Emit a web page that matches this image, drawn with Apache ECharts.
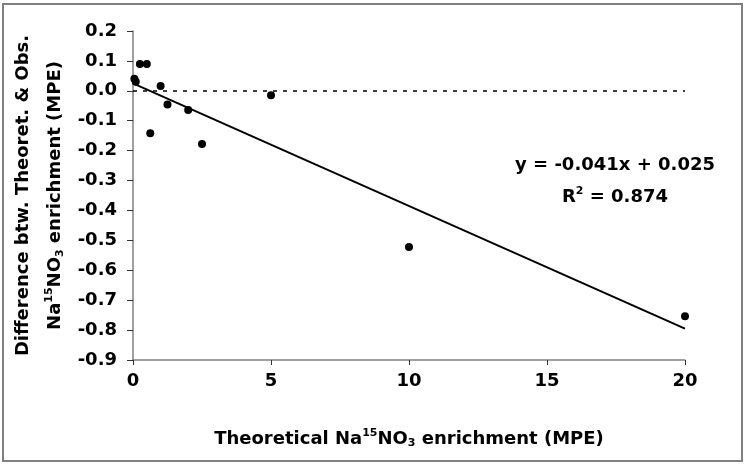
<!DOCTYPE html>
<html>
<head>
<meta charset="utf-8">
<script src="https://cdn.jsdelivr.net/npm/echarts@6/dist/echarts.min.js"></script>
<style>
html,body{margin:0;padding:0;background:#fff;}
#chart{width:749px;height:464px;}
</style>
</head>
<body>
<div id="chart"></div>
<script>
// Observed data: theoretical enrichment (MPE) vs difference (MPE)
const theoretical = [0.05, 0.1, 0.25, 0.5, 0.625, 1.0, 1.25, 2.0, 2.5, 5.0, 10.0, 20.0];
const difference  = [0.040, 0.030, 0.090, 0.090, -0.142, 0.016, -0.046, -0.064, -0.178, -0.015, -0.522, -0.754];
// Trendline endpoints as drawn (y = -0.041x + 0.025)
const trendX = [0, 20];
const trendY = [0.025, -0.795];
const xTicks = { min: 0, max: 20, interval: 5 };
const yTicks = { min: -0.9, max: 0.2, interval: 0.1 };
const equationText = 'y = -0.041x + 0.025';
const r2Value = '0.874';

const FONT = '"DejaVu Sans", "Liberation Sans", sans-serif';
const chart = echarts.init(document.getElementById('chart'), null, {renderer: 'canvas'});

const scatterData = theoretical.map((x, i) => [x, difference[i]]);
const trendData = trendX.map((x, i) => [x, trendY[i]]);

function richStyles(lh) {
  return {
    b: { fontFamily: FONT, fontWeight: 'bold', fontSize: 18, color: '#000', lineHeight: lh, verticalAlign: 'middle' },
    sup: { fontFamily: FONT, fontWeight: 'bold', fontSize: 11, color: '#000', lineHeight: 12, verticalAlign: 'middle', padding: [0, 0, 12, 0] },
    sub: { fontFamily: FONT, fontWeight: 'bold', fontSize: 11, color: '#000', lineHeight: 12, verticalAlign: 'middle', padding: [9, 0, 0, 0] }
  };
}

const option = {
  backgroundColor: '#fff',
  animation: false,
  textStyle: { fontFamily: FONT },
  grid: { left: 133, right: 64, top: 31, bottom: 104, containLabel: false, outerBoundsMode: 'none' },
  xAxis: {
    type: 'value',
    min: xTicks.min, max: xTicks.max, interval: xTicks.interval,
    axisLine: { onZero: false, lineStyle: { color: '#808080', width: 1.5 } },
    axisTick: { show: true, inside: false, length: 5, lineStyle: { color: '#333', width: 1 } },
    splitLine: { show: false },
    axisLabel: { color: '#000', fontFamily: FONT, fontWeight: 'bold', fontSize: 18, margin: 12 },
    name: '{b|Theoretical Na}{sup|15}{b|NO}{sub|3}{b| enrichment (MPE)}',
    nameLocation: 'middle',
    nameGap: 66,
    nameTextStyle: { rich: richStyles(26) }
  },
  yAxis: {
    type: 'value',
    min: yTicks.min, max: yTicks.max, interval: yTicks.interval,
    axisLine: { show: true, onZero: false, lineStyle: { color: '#808080', width: 1.5 } },
    axisTick: { show: true, inside: false, length: 6, lineStyle: { color: '#333', width: 1 } },
    splitLine: { show: false },
    axisLabel: {
      color: '#000', fontFamily: FONT, fontWeight: 'bold', fontSize: 18, margin: 16,
      formatter: v => (Math.abs(v) < 1e-9 ? 0 : v).toFixed(1)
    },
    name: '{b|Difference btw. Theoret. & Obs.}\n{b|Na}{sup|15}{b|NO}{sub|3}{b| enrichment (MPE)}',
    nameLocation: 'middle',
    nameRotate: 90,
    nameGap: 57,
    nameTextStyle: { align: 'center', rich: richStyles(32) }
  },
  series: [
    {
      type: 'line',
      data: trendData,
      symbol: 'none',
      lineStyle: { color: '#000', width: 2 },
      z: 2,
      markLine: {
        silent: true,
        symbol: ['none', 'none'],
        label: { show: false },
        lineStyle: { color: '#000', width: 1.5, type: [4, 6] },
        data: [[{ coord: [xTicks.min, 0] }, { coord: [xTicks.max, 0] }]]
      }
    },
    {
      type: 'scatter',
      data: scatterData,
      symbol: 'circle',
      symbolSize: 8,
      itemStyle: { color: '#000', opacity: 1 },
      z: 3
    }
  ],
  graphic: [
    {
      type: 'rect',
      shape: { x: 3, y: 4, width: 739, height: 457 },
      style: { fill: 'none', stroke: '#808080', lineWidth: 2 },
      silent: true
    },
    {
      type: 'text',
      x: 615, y: 165,
      style: { text: equationText, font: 'bold 18px ' + FONT, fill: '#000', align: 'center', verticalAlign: 'middle' }
    },
    {
      type: 'text',
      x: 615, y: 197,
      style: {
        text: '{b|R}{sup|2}{b| = ' + r2Value + '}',
        align: 'center', verticalAlign: 'middle',
        rich: richStyles(24)
      }
    }
  ]
};
chart.setOption(option);
</script>
</body>
</html>
